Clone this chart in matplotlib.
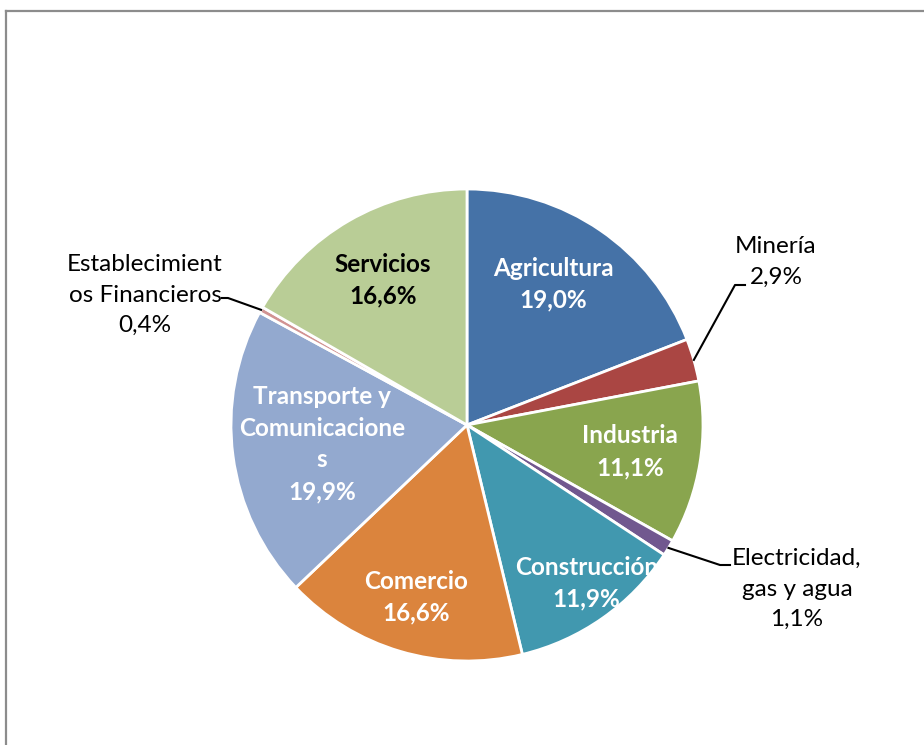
import numpy as np
import matplotlib.pyplot as plt
from matplotlib.lines import Line2D

plt.rcParams['font.family'] = ['Lato', 'DejaVu Sans']

# Data
sectores = ['Agricultura', 'Minería', 'Industria', 'Electricidad,\ngas y agua',
            'Construcción', 'Comercio', 'Transporte y\nComunicacione\ns',
            'Establecimient\nos Financieros', 'Servicios']
porcentajes = [19.0, 2.9, 11.1, 1.1, 11.9, 16.6, 19.9, 0.4, 16.6]
etiquetas_pct = ['19,0%', '2,9%', '11,1%', '1,1%', '11,9%', '16,6%', '19,9%', '0,4%', '16,6%']
colores = ['#4572A7', '#AA4643', '#89A54E', '#71588F', '#4198AF',
           '#DB843D', '#93A9CF', '#D19392', '#B9CD96']

W, H = 924, 745
fig = plt.figure(figsize=(W / 100, H / 100), dpi=100)
ax = fig.add_axes([0, 0, 1, 1])

cx, cy, R = 467, H - 425, 236
wedges, _ = ax.pie(porcentajes, colors=colores, startangle=90, counterclock=False,
                   center=(cx, cy), radius=R, frame=True,
                   wedgeprops=dict(edgecolor='white', linewidth=2))
ax.set_xlim(0, W)
ax.set_ylim(0, H)
ax.set_aspect('equal')
ax.axis('off')

fs = 17.5
# inside labels: (index, radial factor, angle shift in degrees, text colour)
dentro = {0: (0.70, 3, 'white'), 2: (0.70, 0, 'white'), 4: (0.84, 2, 'white'),
          5: (0.76, 0, 'white'), 6: (0.62, 0, 'white'), 8: (0.71, 0, 'black')}
for i, (f, da, col) in dentro.items():
    w = wedges[i]
    ang = np.deg2rad((w.theta1 + w.theta2) / 2 + da)
    x = cx + f * R * np.cos(ang)
    y = cy + f * R * np.sin(ang)
    ax.text(x, y, sectores[i] + '\n' + etiquetas_pct[i], ha='center', va='center',
            color=col, fontsize=fs, fontweight='bold', linespacing=1.45)

# outside labels with leader lines
fuera = {1: ((776, 262), [(745, 285), (735, 285)]),
         3: ((797, 589), [(730, 565), (720, 565)]),
         7: ((145, 295), [(222, 298), (228, 298)])}
for i, ((tx, ty), pts) in fuera.items():
    w = wedges[i]
    ang = np.deg2rad((w.theta1 + w.theta2) / 2)
    ex = cx + R * np.cos(ang)
    ey = cy + R * np.sin(ang)
    xs = [ex] + [p[0] for p in pts[::-1]]
    ys = [ey] + [H - p[1] for p in pts[::-1]]
    ax.plot(xs, ys, color='black', lw=1.5)
    ax.text(tx, H - ty, sectores[i] + '\n' + etiquetas_pct[i], ha='center', va='center',
            color='black', fontsize=fs, linespacing=1.55)

# chart area border (left and top visible)
fig.add_artist(Line2D([6 / W, 6 / W], [0, 1 - 11 / H], transform=fig.transFigure,
                      color='#8c8c8c', lw=1.6))
fig.add_artist(Line2D([6 / W, 1], [1 - 11 / H, 1 - 11 / H], transform=fig.transFigure,
                      color='#8c8c8c', lw=1.6))

fig.savefig('out.png', dpi=100)
